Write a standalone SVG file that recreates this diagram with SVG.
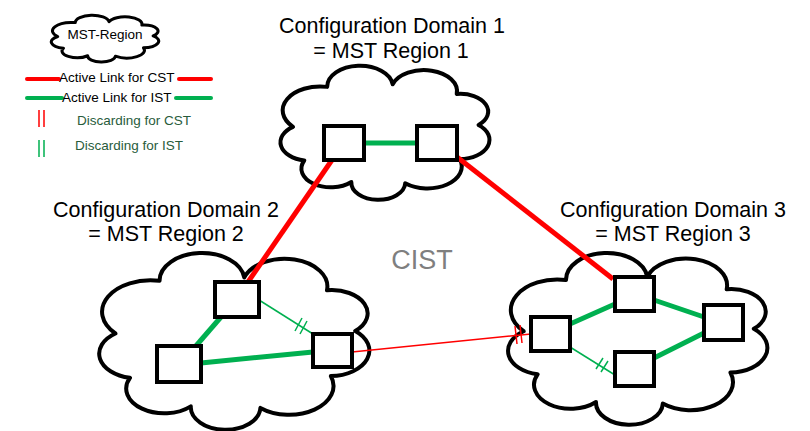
<svg xmlns="http://www.w3.org/2000/svg" xmlns:xlink="http://www.w3.org/1999/xlink" width="810" height="431" viewBox="0 0 810 431">
<style>
.cloud{fill:#fff;stroke:#000;stroke-width:4;stroke-linejoin:round}
.box{fill:#fff;stroke:#000;stroke-width:4}
.red{stroke:#ff0000;fill:none}
.grn{stroke:#00b050;fill:none}
.thick{stroke-width:5}
.thin{stroke-width:1.5}
.t{font-family:"Liberation Sans",Arial,sans-serif;fill:#000}
.title{font-size:21.5px;text-anchor:middle}
.leg{font-size:13.5px}
.dg{fill:#285c3c}
</style>
<defs>
<path id="cloudShape" vector-effect="non-scaling-stroke" d="M7.1 45.8 A17.7 17.7 0 0 1 23.2 16.2 A15.5 15.5 0 0 1 54.1 14.3 A15.6 15.6 0 0 1 84.3 21.5 A13.1 13.1 0 0 1 94.6 44.4 A14.3 14.3 0 0 1 85.7 69.7 A16.2 16.2 0 0 1 60 87.6 A12.7 12.7 0 0 1 34.6 86.7 A13.9 13.9 0 0 1 12.4 70.7 A13.8 13.8 0 0 1 7.1 45.8 Z"/>
</defs>

<g id="legend">
  <use href="#cloudShape" class="cloud" style="stroke-width:3" transform="translate(50,15) scale(1.09,0.47)"/>
  <text class="t leg" x="105" y="39" text-anchor="middle">MST-Region</text>
  <line class="red" x1="27" y1="79" x2="59" y2="79" stroke-width="4" stroke-linecap="round"/>
  <text class="t leg" x="59" y="82">Active Link for CST</text>
  <line class="red" x1="179" y1="79" x2="211" y2="79" stroke-width="4" stroke-linecap="round"/>
  <line class="grn" x1="27" y1="98" x2="62" y2="98" stroke-width="4" stroke-linecap="round"/>
  <text class="t leg" x="62" y="102">Active Link for IST</text>
  <line class="grn" x1="176" y1="98" x2="211" y2="98" stroke-width="4" stroke-linecap="round"/>
  <path class="red" stroke-width="1.5" d="M39 110 V127 M44 110 V127"/>
  <text class="t leg dg" x="77" y="125">Discarding for CST</text>
  <path class="grn" stroke-width="1.5" d="M39 140 V157 M44 140 V157"/>
  <text class="t leg dg" x="75" y="150">Discarding for IST</text>
</g>

<g id="titles">
  <text class="t title" x="392" y="33">Configuration Domain 1</text>
  <text class="t title" x="391" y="58">= MST Region 1</text>
  <text class="t title" x="166" y="217">Configuration Domain 2</text>
  <text class="t title" x="166" y="241">= MST Region 2</text>
  <text class="t title" x="673" y="217">Configuration Domain 3</text>
  <text class="t title" x="673" y="241">= MST Region 3</text>
  <text class="t" x="422" y="269" font-size="27" text-anchor="middle" style="fill:#7f7f7f">CIST</text>
</g>

<g id="region1">
  <use href="#cloudShape" class="cloud" transform="translate(278,65) scale(2.12,1.35)"/>
</g>
<g id="region2">
  <use href="#cloudShape" class="cloud" transform="translate(96,252) scale(2.74,1.78)"/>
</g>
<g id="region3">
  <use href="#cloudShape" class="cloud" transform="translate(505,252) scale(2.63,1.73)"/>
</g>

<g id="connectors">
  <line class="grn thick" x1="364" y1="143" x2="417" y2="143"/>
  <line class="red thick" x1="332" y1="160" x2="248" y2="282"/>
  <line class="red thick" x1="457" y1="157" x2="613" y2="279"/>
  <line class="grn thick" x1="221" y1="317" x2="195" y2="347"/>
  <line class="grn thick" x1="201" y1="363" x2="313" y2="352"/>
  <line class="grn thin" x1="259" y1="300" x2="313" y2="334"/>
  <path class="grn thin" d="M295 331 L302 318 M300 334 L307 321"/>
  <line class="red thin" x1="352" y1="352" x2="531" y2="334"/>
  <path class="red thin" d="M515 326 L517 344 M520 325 L522 343"/>
  <line class="grn thick" x1="570" y1="324" x2="615" y2="304"/>
  <line class="grn thick" x1="654" y1="300" x2="704" y2="317"/>
  <line class="grn thick" x1="654" y1="358" x2="704" y2="333"/>
  <line class="grn thin" x1="570" y1="347" x2="615" y2="375"/>
  <path class="grn thin" d="M596 369 L603 358 M601 372 L608 361"/>
</g>

<g id="sw1a"><rect class="box" x="324" y="126" width="40" height="34"/></g>
<g id="sw1b"><rect class="box" x="417" y="126" width="40" height="34"/></g>
<g id="sw2a"><rect class="box" x="215" y="282" width="44" height="35"/></g>
<g id="sw2b"><rect class="box" x="157" y="346" width="44" height="36"/></g>
<g id="sw2c"><rect class="box" x="313" y="334" width="39" height="33"/></g>
<g id="sw3a"><rect class="box" x="531" y="317" width="39" height="34"/></g>
<g id="sw3b"><rect class="box" x="615" y="277" width="39" height="34"/></g>
<g id="sw3c"><rect class="box" x="704" y="305" width="39" height="35"/></g>
<g id="sw3d"><rect class="box" x="615" y="352" width="39" height="34"/></g>
</svg>
